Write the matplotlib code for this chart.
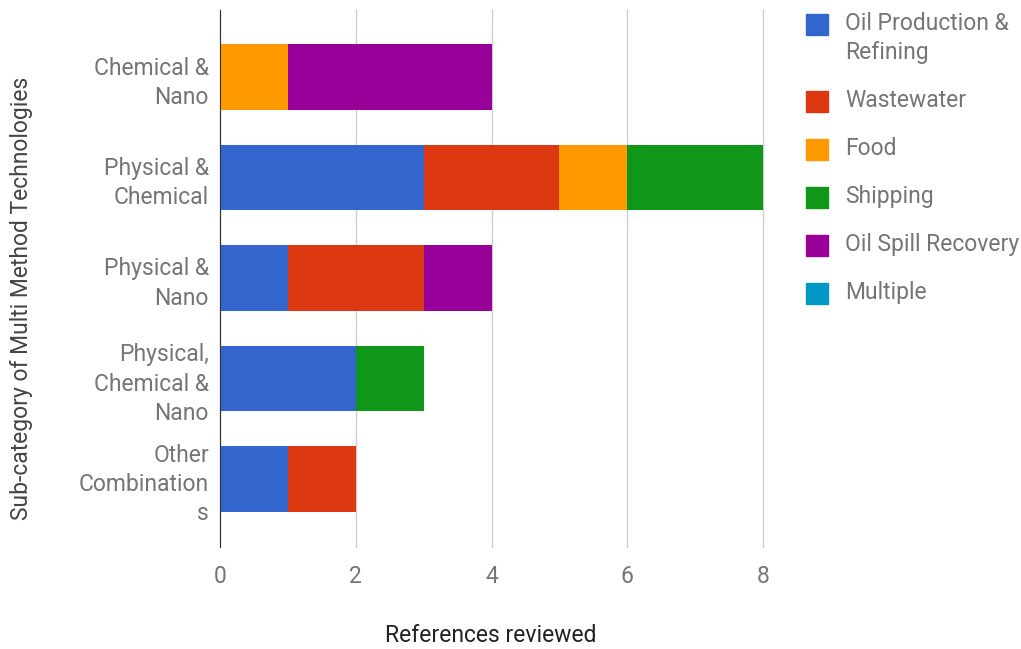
import matplotlib.pyplot as plt
from matplotlib.patches import Rectangle
import numpy as np

plt.rcParams['font.family'] = ['Roboto', 'DejaVu Sans']

categories = ["Chemical &\nNano", "Physical &\nChemical", "Physical &\nNano",
              "Physical,\nChemical &\nNano", "Other\nCombination\ns"]
series = ["Oil Production &\nRefining", "Wastewater", "Food", "Shipping",
          "Oil Spill Recovery", "Multiple"]
oil_production = [0, 3, 1, 2, 1]
wastewater = [0, 2, 2, 0, 1]
food = [1, 1, 0, 0, 0]
shipping = [0, 2, 0, 1, 0]
oil_spill = [3, 0, 1, 0, 0]
multiple = [0, 0, 0, 0, 0]
colors = ["#3366cc", "#dc3912", "#ff9900", "#109618", "#990099", "#0099c6"]
x_ticks = [0, 2, 4, 6, 8]

FS = 16.5

fig = plt.figure(figsize=(10.21, 6.49), dpi=100)
ax = fig.add_axes([220 / 1021, 1 - 547 / 649, 543 / 1021, 537 / 649])

y = np.arange(len(categories))
left = np.zeros(len(categories))
for vals, col in zip([oil_production, wastewater, food, shipping, oil_spill, multiple], colors):
    vals = np.array(vals, dtype=float)
    ax.barh(y, vals, left=left, height=0.65, color=col, zorder=3)
    left += vals

ax.set_xlim(0, 8)
ax.set_ylim(4.677, -0.667)
ax.set_xticks(x_ticks)
ax.set_yticks(y)
ax.set_yticklabels(categories, linespacing=1.35, ha='right')
ax.grid(axis='x', color='#cccccc', linewidth=1, zorder=0)
for gl in ax.get_xgridlines():
    gl.set_clip_on(False)
for s in ['top', 'right', 'bottom']:
    ax.spines[s].set_visible(False)
ax.spines['left'].set_color('#333333')
ax.spines['left'].set_zorder(4)
ax.tick_params(axis='both', length=0, colors='#757575', labelsize=FS)
ax.tick_params(axis='x', pad=13)
ax.tick_params(axis='y', pad=8)

fig.text(491 / 1021, 1 - 636 / 649, "References reviewed", ha='center', va='center',
         fontsize=FS, color='#222222')
fig.text(22 / 1021, 1 - 298 / 649, "Sub-category of Multi Method Technologies", ha='center',
         va='center', rotation=90, fontsize=FS, color='#444444')

# legend drawn by hand to match the stacked layout
legend_y = [25, 102, 150, 198, 246, 294]
for lab, col, ly in zip(series, colors, legend_y):
    fig.add_artist(Rectangle((806 / 1021, 1 - (ly + 10) / 649), 22 / 1021, 21 / 649,
                             color=col, transform=fig.transFigure))
    fig.text(845 / 1021, 1 - (ly - 13) / 649, lab, ha='left', va='top', fontsize=FS,
             color='#757575', linespacing=1.35)

fig.savefig("out.png", dpi=100)
